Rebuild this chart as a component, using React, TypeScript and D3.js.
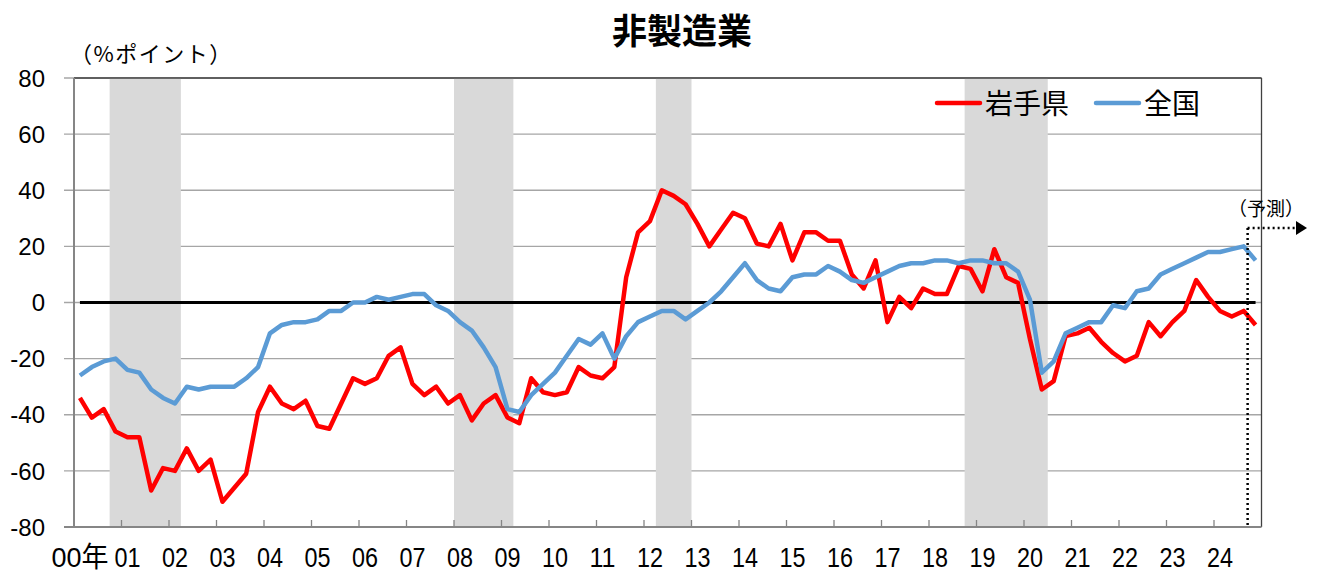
import React from "react";
import * as d3 from "d3";

// quarterly DI, 2000Q1 - 2024Q4 (last quarter = forecast)
const years = [
  2000, 2001, 2002, 2003, 2004, 2005, 2006, 2007, 2008, 2009, 2010, 2011, 2012,
  2013, 2014, 2015, 2016, 2017, 2018, 2019, 2020, 2021, 2022, 2023, 2024,
];
const yearLabels = [
  "00年", "01", "02", "03", "04", "05", "06", "07", "08", "09", "10", "11", "12",
  "13", "14", "15", "16", "17", "18", "19", "20", "21", "22", "23", "24",
];
const quarterNames = ["Q1", "Q2", "Q3", "Q4"];
const quarters = years.flatMap((y) => quarterNames.map((q) => `${y}${q}`));

const iwate = [
  -34, -41, -38, -46, -48, -48, -67, -59, -60, -52, -60, -56, -71, -66, -61, -39,
  -30, -36, -38, -35, -44, -45, -36, -27, -29, -27, -19, -16, -29, -33, -30, -36,
  -33, -42, -36, -33, -41, -43, -27, -32, -33, -32, -23, -26, -27, -23, 9, 25,
  29, 40, 38, 35, 28, 20, 26, 32, 30, 21, 20, 28, 15, 25, 25, 22,
  22, 10, 5, 15, -7, 2, -2, 5, 3, 3, 13, 12, 4, 19, 9, 7,
  -13, -31, -28, -12, -11, -9, -14, -18, -21, -19, -7, -12, -7, -3, 8, 2,
  -3, -5, -3, -8,
];
const national = [
  -26, -23, -21, -20, -24, -25, -31, -34, -36, -30, -31, -30, -30, -30, -27, -23,
  -11, -8, -7, -7, -6, -3, -3, 0, 0, 2, 1, 2, 3, 3, -1, -3,
  -7, -10, -16, -23, -38, -39, -33, -29, -25, -19, -13, -15, -11, -20, -12, -7,
  -5, -3, -3, -6, -3, 0, 4, 9, 14, 8, 5, 4, 9, 10, 10, 13,
  11, 8, 7, 9, 11, 13, 14, 14, 15, 15, 14, 15, 15, 14, 14, 11,
  1, -25, -21, -11, -9, -7, -7, -1, -2, 4, 5, 10, 12, 14, 16, 18,
  18, 19, 20, 15,
];

const yTicks = [80, 60, 40, 20, 0, -20, -40, -60, -80];

// shaded recession periods (first and last quarter)
const recessions = [
  ["2000Q4", "2002Q1"],
  ["2008Q1", "2009Q1"],
  ["2012Q2", "2012Q4"],
  ["2018Q4", "2020Q2"],
];
const forecastQuarter = "2024Q4";

const series = [
  { name: "岩手県", values: iwate, color: "#ff0000" },
  { name: "全国", values: national, color: "#5b9bd5" },
];

const W = 1317;
const H = 578;
const left = 74;
const right = 1261.5;
const top = 78;
const bottom = 527;

const jpFont = "'Noto Sans CJK JP', 'Liberation Sans', sans-serif";
const numFont = "'Liberation Sans', 'Noto Sans CJK JP', sans-serif";

export default function App() {
  const x = d3
    .scaleBand<string>()
    .domain(quarters)
    .range([left, right])
    .padding(0);
  const bw = x.bandwidth();
  const cx = (q: string) => (x(q) as number) + bw / 2;

  const y = d3.scaleLinear().domain([-80, 80]).range([bottom, top]);

  const line = d3
    .line<number>()
    .x((d, i) => cx(quarters[i]))
    .y((d) => y(d));

  const fx = (x(forecastQuarter) as number) - 2;
  const arrowY = 228;

  return (
    <svg
      width={W}
      height={H}
      style={{ position: "absolute", left: 0, top: 0, background: "#fff" }}
    >
      {/* title */}
      <text
        x={682}
        y={44}
        textAnchor="middle"
        fontFamily={jpFont}
        fontWeight="bold"
        fontSize={35}
        fill="#000"
      >
        非製造業
      </text>
      <text x={70} y={62} fontFamily={jpFont} fontSize={22} letterSpacing={1.5}>
        （%ポイント）
      </text>

      {/* grid lines */}
      {yTicks
        .filter((t) => t !== -80)
        .map((t) => (
          <line
            key={"g" + t}
            x1={64}
            x2={right}
            y1={y(t)}
            y2={y(t)}
            stroke="#a6a6a6"
            strokeWidth={1.3}
          />
        ))}
      <line x1={64} x2={left} y1={bottom} y2={bottom} stroke="#868686" strokeWidth={2} />

      {/* recession bands */}
      {recessions.map(([a, b]) => (
        <rect
          key={a}
          x={x(a)}
          y={top}
          width={(x(b) as number) + bw - (x(a) as number)}
          height={bottom - top}
          fill="#d9d9d9"
        />
      ))}

      {/* plot frame */}
      <line x1={left} x2={right} y1={top} y2={top} stroke="#404040" strokeWidth={1.3} />
      <line x1={right} x2={right} y1={top} y2={bottom} stroke="#404040" strokeWidth={1.3} />
      <line x1={left} x2={left} y1={top} y2={bottom + 1} stroke="#868686" strokeWidth={2} />
      <line x1={left} x2={right} y1={bottom} y2={bottom} stroke="#868686" strokeWidth={2} />

      {/* x ticks at year boundaries */}
      {years.slice(1).map((yr) => (
        <line
          key={"t" + yr}
          x1={x(`${yr}Q1`)}
          x2={x(`${yr}Q1`)}
          y1={bottom}
          y2={bottom - 7}
          stroke="#868686"
          strokeWidth={1.3}
        />
      ))}

      {/* y labels */}
      {yTicks.map((t) => (
        <text
          key={"yl" + t}
          x={45}
          y={y(t)}
          dy="0.36em"
          textAnchor="end"
          fontFamily={numFont}
          fontSize={24}
          fill="#000"
        >
          {t}
        </text>
      ))}

      {/* x labels */}
      {years.map((yr, i) => (
        <text
          key={"xl" + yr}
          x={cx(`${yr}Q1`)}
          y={567}
          textAnchor="middle"
          fontFamily={numFont}
          fontSize={28}
          textLength={i === 0 ? 57 : 26}
          lengthAdjust="spacingAndGlyphs"
          fill="#000"
        >
          {yearLabels[i]}
        </text>
      ))}

      {/* zero line */}
      <line
        x1={cx(quarters[0])}
        x2={cx(quarters[quarters.length - 1])}
        y1={y(0)}
        y2={y(0)}
        stroke="#000"
        strokeWidth={3}
      />

      {/* series */}
      {series.map((s) => (
        <path
          key={s.name}
          d={line(s.values) || ""}
          fill="none"
          stroke={s.color}
          strokeWidth={4.5}
          strokeLinejoin="round"
        />
      ))}

      {/* forecast marker */}
      <line
        x1={fx}
        x2={fx}
        y1={arrowY}
        y2={bottom}
        stroke="#000"
        strokeWidth={2.5}
        strokeDasharray="2 3"
      />
      <line
        x1={fx}
        x2={1297}
        y1={arrowY}
        y2={arrowY}
        stroke="#000"
        strokeWidth={2.5}
        strokeDasharray="2 3"
      />
      <path
        d={`M1296,${arrowY - 7} L1307,${arrowY} L1296,${arrowY + 7} Z`}
        fill="#000"
      />
      <text
        x={1266}
        y={216}
        textAnchor="middle"
        fontFamily={jpFont}
        fontSize={19}
        fill="#000"
      >
        （予測）
      </text>

      {/* legend */}
      {series.map((s, i) => {
        const lx = i === 0 ? 937 : 1096;
        return (
          <g key={"lg" + s.name}>
            <line
              x1={lx}
              x2={lx + 43}
              y1={103}
              y2={103}
              stroke={s.color}
              strokeWidth={4.5}
              strokeLinecap="round"
            />
            <text
              x={lx + 48}
              y={104}
              dy="0.36em"
              fontFamily={jpFont}
              fontSize={28}
              fill="#000"
            >
              {s.name}
            </text>
          </g>
        );
      })}
    </svg>
  );
}
